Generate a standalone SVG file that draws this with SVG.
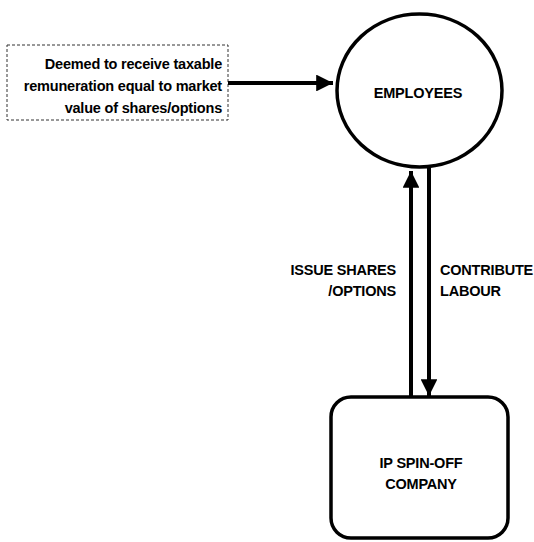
<svg xmlns="http://www.w3.org/2000/svg" width="534" height="542" viewBox="0 0 534 542">
  <style>
    .node { fill: #fff; stroke: #000; stroke-width: 3.5; }
    .note { fill: #fff; stroke: #333; stroke-width: 1; stroke-dasharray: 3 2; }
    .lbl { font-family: "Liberation Sans", Arial, sans-serif; font-weight: bold; font-size: 14.5px; letter-spacing: -0.2px; fill: #000; }
    .edge { stroke: #000; stroke-width: 4; fill: none; }
  </style>
  <defs>
    <marker id="head" viewBox="0 0 10 10" refX="10" refY="5" markerWidth="4.2" markerHeight="4.2" orient="auto" markerUnits="strokeWidth">
      <path d="M0,0 L10,5 L0,10 Z" fill="#000"/>
    </marker>
  </defs>
  <rect width="534" height="542" fill="#fff"/>

  <g id="note">
    <rect class="note" x="7" y="45" width="221" height="75"/>
    <text class="lbl" text-anchor="end" x="222" y="69">Deemed to receive taxable</text>
    <text class="lbl" text-anchor="end" x="222" y="91">remuneration equal to market</text>
    <text class="lbl" text-anchor="end" x="222" y="113">value of shares/options</text>
  </g>

  <g id="employees">
    <ellipse class="node" cx="419.5" cy="90.5" rx="82.5" ry="76.5"/>
    <text class="lbl" text-anchor="middle" x="418" y="98">EMPLOYEES</text>
  </g>

  <g id="company">
    <rect class="node" x="331" y="397" width="177" height="141" rx="20" ry="20"/>
    <text class="lbl" text-anchor="middle" x="421" y="468">IP SPIN-OFF</text>
    <text class="lbl" text-anchor="middle" x="421" y="489">COMPANY</text>
  </g>

  <g id="connectors">
    <line class="edge" x1="228" y1="83" x2="333" y2="83" stroke-width="3.5" marker-end="url(#head)"/>
    <line class="edge" x1="411" y1="397" x2="411" y2="171" marker-end="url(#head)"/>
    <line class="edge" x1="429" y1="168" x2="429" y2="396" marker-end="url(#head)"/>
    <text class="lbl" text-anchor="end" x="396" y="275">ISSUE SHARES</text>
    <text class="lbl" text-anchor="end" x="396" y="296">/OPTIONS</text>
    <text class="lbl" x="440" y="275">CONTRIBUTE</text>
    <text class="lbl" x="440" y="296">LABOUR</text>
  </g>
</svg>
